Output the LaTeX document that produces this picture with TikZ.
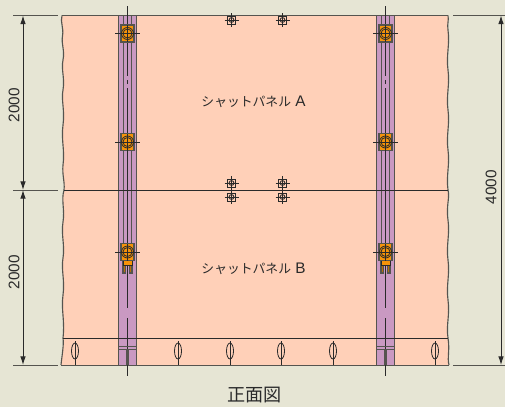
\documentclass[tikz,border=0pt]{standalone}
\usepackage{fontspec}
\setmainfont{Liberation Sans}
\newfontfamily\jpfont{Noto Sans CJK JP}
\usetikzlibrary{arrows.meta}
\definecolor{bg}{HTML}{E6E5D4}
\definecolor{panelc}{HTML}{FFD0B8}
\definecolor{colc}{HTML}{C999C2}
\definecolor{platec}{HTML}{F5930A}
\definecolor{linec}{HTML}{2A2A2A}
\definecolor{greyc}{HTML}{55544F}
\tikzset{
  x=0.75pt,y=-0.75pt,
  dimline/.style={draw=linec,line width=0.7pt,{Latex[length=6.5pt,width=4.2pt]}-{Latex[length=6.5pt,width=4.2pt]}},
  extline/.style={draw=greyc,line width=0.75pt},
  thin line/.style={draw=linec,line width=0.65pt},
  dimtext/.style={font=\fontsize{11.5pt}{13pt}\selectfont,text=linec,inner sep=0pt},
  jptext/.style={font=\jpfont\fontsize{9.6pt}{12pt}\selectfont,text=linec,inner sep=0pt},
  collines/.style={draw=greyc,line width=0.75pt},
  edgeline/.style={draw=greyc,line width=0.85pt},
}
\newcommand{\plate}[2]{%
  \begin{scope}[shift={(#1,#2)}]
    \draw[draw=greyc,fill=platec,line width=0.85pt] (-6.5,-8.5) rectangle (6.5,8.5);
    \draw[draw=linec,line width=0.6pt] (0,0) circle (6);
    \draw[draw=linec,line width=0.6pt] (0,0) circle (4.5);
    \draw[draw=linec,line width=0.6pt] (-12.5,0) -- (12.5,0);
    \draw[draw=linec,line width=0.6pt] (0,-8.5) -- (0,8.5);
  \end{scope}}
\newcommand{\colstrip}[1]{%
  \begin{scope}[shift={(#1,0)}]
    \fill[colc] (-9,15.5) rectangle (8.5,365);
    \draw[collines] (-9,15.5) -- (-9,365);
    \draw[collines] (8.5,15.5) -- (8.5,365);
    \draw[collines] (-4,15.5) -- (-4,252);
    \draw[collines] (3.5,15.5) -- (3.5,252);
    \draw[draw=linec,line width=0.7pt] (0,6) -- (0,76);
    \draw[draw=linec,line width=0.7pt] (0,80) -- (0,84);
    \draw[draw=linec,line width=0.7pt] (0,88) -- (0,308);
    \draw[draw=linec,line width=0.7pt] (0,318) -- (0,376);
    \draw[draw=greyc,line width=0.75pt] (-9,346.5) -- (8.5,346.5);
    \draw[draw=greyc,line width=0.75pt] (-9,349.5) -- (8.5,349.5);
    \fill[greyc] (-1.7,349) rectangle (1.7,365);
    \plate{0}{33.5}
    \plate{0}{142}
    \draw[draw=greyc,fill=platec!75!black,line width=0.8pt] (-4.5,259) rectangle (-2,273);
    \draw[draw=greyc,fill=platec!75!black,line width=0.8pt] (2,259) rectangle (4.5,273);
    \draw[draw=linec,fill=platec,line width=0.5pt] (-4.5,259) rectangle (4.5,265);
    \plate{0}{252}
  \end{scope}}
\newcommand{\bracketmark}[2]{%
  \begin{scope}[shift={(#1,#2)}]
    \draw[draw=linec,fill=panelc,line width=0.65pt] (-4,-4) rectangle (4,4);
    \draw[draw=linec,line width=0.65pt] (0,0) circle (2.4);
    \draw[draw=linec,line width=0.55pt] (-7,0) -- (7,0);
    \draw[draw=linec,line width=0.55pt] (0,-7) -- (0,7);
  \end{scope}}
\newcommand{\slotmark}[1]{%
  \draw[draw=linec,line width=0.65pt] (#1,341) -- (#1,365);
  \draw[draw=linec,fill=panelc,line width=0.6pt] (#1,351) ellipse (3.5 and 8);
  \draw[draw=linec,line width=0.4pt] (#1,343) -- (#1,359);}
\newcommand{\leftedge}{(62,15.5) .. controls (60,22) and (64,28) .. (62.5,36)
  .. controls (61,44) and (65,50) .. (63,60)
  .. controls (61,70) and (65,78) .. (63,90)
  .. controls (61,100) and (65,110) .. (63,125)
  .. controls (61,140) and (65,150) .. (63,165)
  .. controls (62,175) and (65,182) .. (64,190)
  .. controls (61,200) and (65,210) .. (63,222)
  .. controls (61,235) and (65,245) .. (63,258)
  .. controls (61,270) and (65,280) .. (63,295)
  .. controls (61,310) and (65,320) .. (63,338)
  .. controls (64,345) and (62,355) .. (61,365)}
\newcommand{\rightedge}{(449,365)
  .. controls (447,358) and (450,350) .. (448,338)
  .. controls (446,325) and (450,315) .. (448,300)
  .. controls (446,285) and (450,275) .. (448,260)
  .. controls (446,245) and (450,235) .. (448,220)
  .. controls (446,205) and (450,198) .. (448,190)
  .. controls (446,175) and (450,165) .. (448,150)
  .. controls (446,135) and (450,125) .. (448,110)
  .. controls (446,95) and (450,85) .. (448,70)
  .. controls (446,55) and (450,45) .. (448,30)
  .. controls (447,24) and (449,20) .. (448,15.5)}
\begin{document}
\begin{tikzpicture}
\useasboundingbox (0,0) rectangle (505,407);
\fill[bg] (0,0) rectangle (505,407);
% panel
\fill[panelc] \leftedge -- \rightedge -- cycle;
\draw[edgeline] \leftedge;
\draw[edgeline] \rightedge;
\draw[extline] (62,15.5) -- (448,15.5);
\draw[extline] (61,365) -- (449,365);
\colstrip{127.5}
\colstrip{385.5}
\draw[thin line] (64,190) -- (448,190);
\draw[thin line] (63,338.5) -- (448,338.5);
% brackets
\bracketmark{231.5}{20}
\bracketmark{282.5}{20}
\bracketmark{231.5}{183}
\bracketmark{282.5}{183}
\bracketmark{231.5}{197}
\bracketmark{282.5}{197}
% slots
\slotmark{75}
\slotmark{178}
\slotmark{230}
\slotmark{281}
\slotmark{333}
\slotmark{435}
% dimensions
\coordinate (lt1) at (13,15.5); \coordinate (lt2) at (58,15.5);
\coordinate (lm1) at (13,190); \coordinate (lm2) at (58,190);
\coordinate (lb1) at (13,365); \coordinate (lb2) at (58,365);
\coordinate (rt1) at (453,15.5); \coordinate (rt2) at (505,15.5);
\coordinate (rb1) at (453,365); \coordinate (rb2) at (505,365);
\draw[extline] (lt1) -- (lt2);
\draw[extline] (lm1) -- (lm2);
\draw[extline] (lb1) -- (lb2);
\draw[extline] (rt1) -- (rt2);
\draw[extline] (rb1) -- (rb2);
\coordinate (da) at (23,15.5); \coordinate (db) at (23,190); \coordinate (dc) at (23,365);
\coordinate (dd) at (501,15.5); \coordinate (de) at (501,365);
\draw[dimline] (da) -- (db);
\draw[dimline] (db) -- (dc);
\draw[dimline] (dd) -- (de);
\node[dimtext,rotate=90] (d1) at (14,105) {2000};
\node[dimtext,rotate=90] (d2) at (14,272) {2000};
\node[dimtext,rotate=90] (d3) at (491,187) {4000};
% labels
\node[jptext] (pa) at (253.5,101.5) {シャットパネル\,\,{\fontsize{11.5pt}{13pt}\selectfont\rmfamily A}};
\node[jptext] (pb) at (253.5,268.5) {シャットパネル\,\,{\fontsize{11.5pt}{13pt}\selectfont\rmfamily B}};
\node[jptext,font=\jpfont\fontsize{13.6pt}{15pt}\selectfont] (title) at (254.5,395) {正面図};
\end{tikzpicture}
\end{document}
